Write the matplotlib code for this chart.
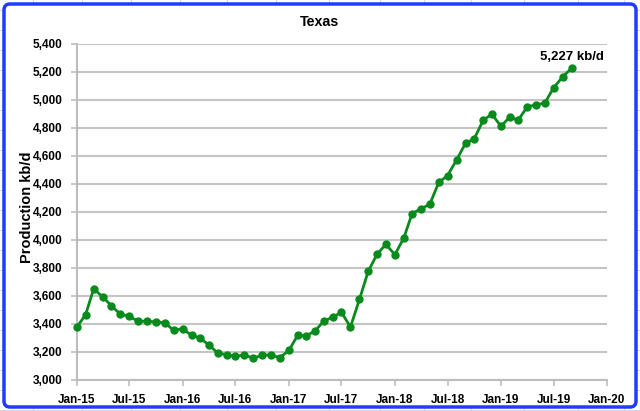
import numpy as np
import pandas as pd
import matplotlib
matplotlib.use("Agg")
import matplotlib.pyplot as plt
import matplotlib.dates as mdates
from matplotlib.patches import FancyBboxPatch

# 月次生産量 (kb/d), Jan-15 .. Sep-19
start_month = "2015-01-01"
production = [
    3375, 3465, 3650, 3595, 3530, 3470, 3455, 3420, 3420, 3415, 3410, 3355,
    3365, 3320, 3300, 3250, 3193, 3180, 3170, 3178, 3156, 3178, 3178, 3160,
    3211, 3322, 3315, 3350, 3420, 3450, 3483, 3379, 3576, 3776, 3900, 3969,
    3895, 4017, 4188, 4224, 4255, 4412, 4460, 4571, 4691, 4723, 4856, 4899,
    4812, 4880, 4855, 4950, 4966, 4978, 5087, 5164, 5227,
]
months = pd.date_range(start_month, periods=len(production), freq="MS")

title = "Texas"
ylabel = "Production kb/d"
last_label = "5,227 kb/d"

plt.rcParams["font.family"] = ["Liberation Sans", "DejaVu Sans"]

fig = plt.figure(figsize=(6.4, 4.11), dpi=100)

# 背景のシート罫線
bg = fig.add_axes([0, 0, 1, 1], zorder=-2)
bg.set_xlim(0, 640)
bg.set_ylim(411, 0)
bg.axis("off")
for gx in [33, 82, 131, 180, 227, 276, 329, 380, 424, 471, 524, 578, 624]:
    bg.plot([gx, gx], [0, 411], color="#d9d9d9", lw=0.8, zorder=1)
for gy in np.arange(10, 411, 20):
    bg.plot([0, 640], [gy, gy], color="#d9d9d9", lw=0.8, zorder=1)
box = FancyBboxPatch((4, 4), 632, 403, boxstyle="round,pad=0,rounding_size=6",
                     facecolor="white", edgecolor="#1f3cff", linewidth=2.5, zorder=5)
bg.add_patch(box)

ax = fig.add_axes([76.5 / 640, 1 - 380 / 411, (607 - 76.5) / 640, (380 - 44) / 411])
ax.set_facecolor("none")

ax.plot(months, production, color="#088a1c", lw=2.0, marker="o", ms=5,
        clip_on=False, zorder=3)

ax.set_ylim(3000, 5400)
ax.set_yticks(np.arange(3000, 5401, 200))
ax.yaxis.set_major_formatter(matplotlib.ticker.FuncFormatter(lambda v, p: f"{int(v):,}"))
ax.set_xlim(pd.Timestamp("2015-01-01"), pd.Timestamp("2020-01-01"))
ax.xaxis.set_major_locator(mdates.MonthLocator(bymonth=[1, 7]))
ax.xaxis.set_major_formatter(mdates.DateFormatter("%b-%y"))

ax.grid(axis="y", color="#c4c4c4", lw=1.5)
ax.set_axisbelow(True)
for s in ["top", "right"]:
    ax.spines[s].set_visible(False)
for s in ["left", "bottom"]:
    ax.spines[s].set_color("#bdbdbd")
    ax.spines[s].set_linewidth(1.5)
ax.tick_params(axis="both", color="#bdbdbd", width=1.2, length=4, labelsize=8.5)
for lab in ax.get_xticklabels() + ax.get_yticklabels():
    lab.set_fontweight("bold")
ax.tick_params(axis="x", pad=6)
ax.tick_params(axis="y", pad=6)

fig.text(320 / 640, 1 - 22 / 411, title, ha="center", va="center",
         fontsize=10.3, fontweight="bold")
fig.text(27 / 640, 1 - 207 / 411, ylabel, ha="center", va="center",
         rotation=90, fontsize=10.5, fontweight="bold")
ax.annotate(last_label, (months[-1], production[-1]), xytext=(23, 4),
            textcoords="offset points", ha="right", va="bottom",
            fontsize=9.5, fontweight="bold")

fig.savefig("out.png", dpi=100)
